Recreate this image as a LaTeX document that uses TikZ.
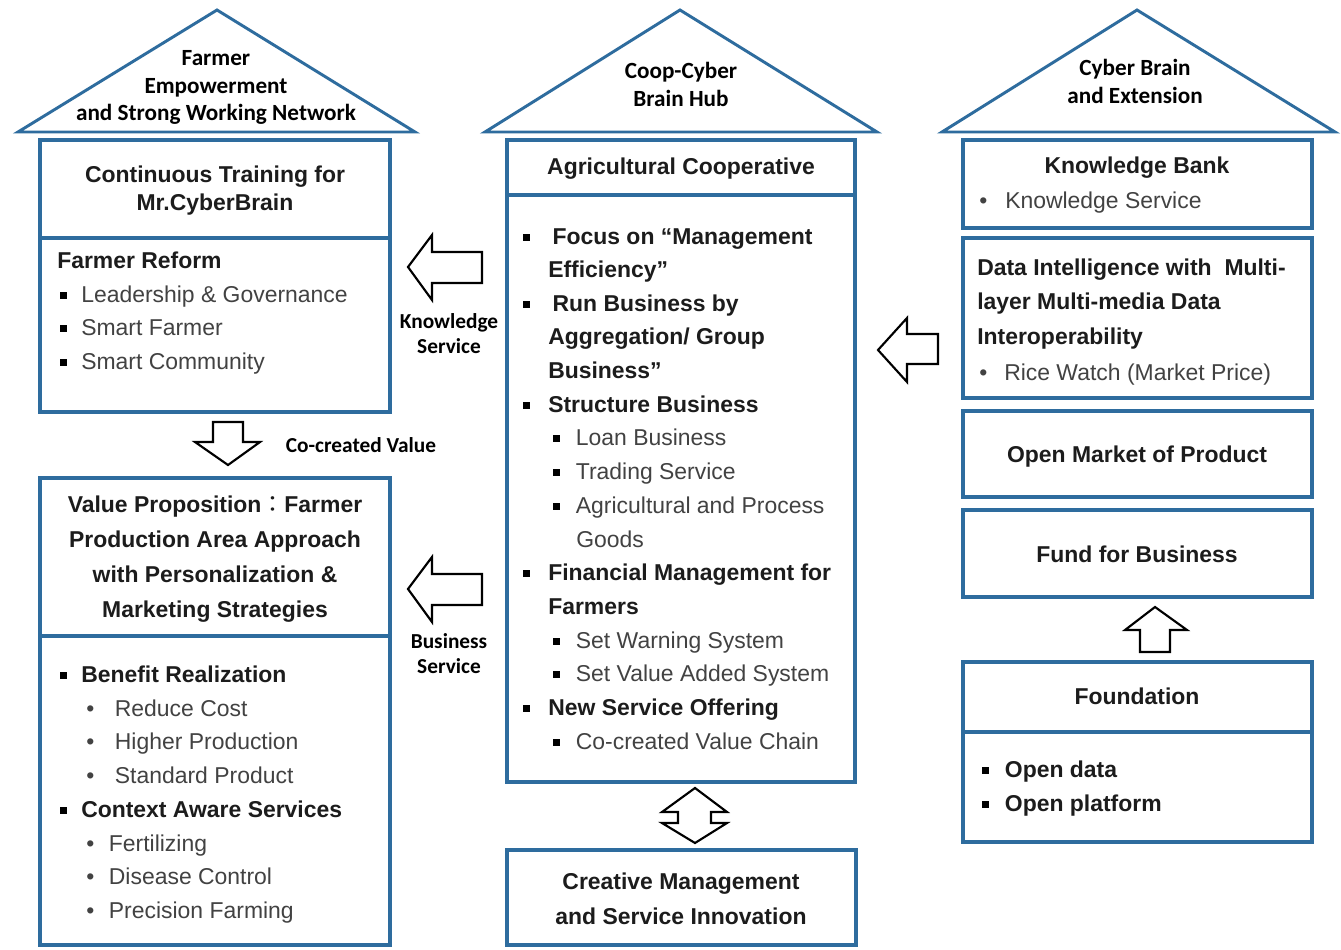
\documentclass[tikz,border=0pt]{standalone}
\usepackage{fontspec}
\setmainfont{Liberation Sans}
\newfontfamily\carlito{Carlito}
\newfontfamily\cjkjp{Noto Sans CJK JP}
\usetikzlibrary{fit}
\definecolor{bblue}{RGB}{46,108,158}
\definecolor{txt}{RGB}{28,28,28}
\definecolor{subt}{RGB}{66,66,66}
\newcommand\sqi[1]{\makebox[#1][l]{\color{black}\raisebox{2.4pt}{\rule{4.8pt}{4.8pt}}}}
\newcommand\dti[1]{\makebox[#1][l]{\textbullet}}
\begin{document}
\begin{tikzpicture}[x=0.75pt,y=-0.75pt,
  box/.style={draw=bblue, line width=2.4pt, inner sep=0pt},
  roofst/.style={draw=bblue, line width=2.2pt, line join=miter},
  barrow/.style={draw=black, line width=1.6pt, fill=white, line join=miter},
  ln/.style={inner sep=0pt, text height=10.6pt, text depth=0pt, font=\fontsize{17.2}{20}\selectfont, text=txt},
  lnb/.style={ln, font=\fontsize{17.2}{20}\selectfont\bfseries},
  lns/.style={ln, text=subt},
  roof/.style={inner sep=0pt, text height=12.6pt, text depth=0pt, font=\carlito\fontsize{17.4}{20}\selectfont\bfseries, text=black},
  lab/.style={inner sep=0pt, text height=12.4pt, text depth=0pt, font=\carlito\fontsize{16}{19}\selectfont\bfseries, text=black}
]
\fill[white] (0,0) rectangle (1341,949);
\useasboundingbox (0,0) rectangle (1341,949);

% ---------- roofs ----------
\draw[roofst] (18,132) -- (217,10) -- (415,132) -- cycle;
\draw[roofst] (485,132) -- (680,10) -- (877,132) -- cycle;
\draw[roofst] (942,132) -- (1137,10) -- (1335,132) -- cycle;

% ---------- boxes ----------
\node[box, fit={(40,140)(390,238)}] (lb1) {};
\node[box, fit={(40,238)(390,412)}] (lb2) {};
\node[box, fit={(40,478)(390,636)}] (lb3) {};
\node[box, fit={(40,636)(390,945)}] (lb4) {};
\node[box, fit={(507,140)(855,195)}] (mb1) {};
\node[box, fit={(507,195)(855,782)}] (mb2) {};
\node[box, fit={(507,850)(856,945)}] (mb3) {};
\node[box, fit={(963,140)(1312,228)}] (rb1) {};
\node[box, fit={(963,238)(1312,398)}] (rb2) {};
\node[box, fit={(963,411)(1312,497)}] (rb3) {};
\node[box, fit={(963,510)(1312,597)}] (rb4) {};
\node[box, fit={(963,662)(1312,732)}] (rb5) {};
\node[box, fit={(963,732)(1312,842)}] (rb6) {};

% ---------- block arrows ----------
\draw[barrow] (408,267) -- (432,235) -- (432,252) -- (482,252) -- (482,283) -- (432,283) -- (432,300) -- cycle;
\draw[barrow] (408,589) -- (432,557) -- (432,574) -- (482,574) -- (482,605) -- (432,605) -- (432,622) -- cycle;
\draw[barrow] (878,350) -- (907,318) -- (907,334) -- (938,334) -- (938,364) -- (907,364) -- (907,382) -- cycle;
\draw[barrow] (213,422) -- (243,422) -- (243,442) -- (260,442) -- (228,465) -- (195,442) -- (213,442) -- cycle;
\draw[barrow] (1155,607) -- (1187,630) -- (1170,630) -- (1170,652) -- (1140,652) -- (1140,630) -- (1125,630) -- cycle;
\draw[barrow] (695,788) -- (727,812) -- (711,812) -- (711,823) -- (727,823) -- (695,843) -- (662,823) -- (678,823) -- (678,812) -- (662,812) -- cycle;

% ---------- roof texts ----------
\node[roof] (lr1) at (216,57) {Farmer};
\node[roof] (lr2) at (216,85) {Empowerment};
\node[roof] (lr3) at (216,112) {and Strong Working Network};
\node[roof] (mr1) at (681,70) {Coop-Cyber};
\node[roof] (mr2) at (681,98) {Brain Hub};
\node[roof] (rr1) at (1135,67) {Cyber Brain};
\node[roof] (rr2) at (1135,95) {and Extension};

% ---------- arrow labels ----------
\node[lab] (kl1) at (449,320) {Knowledge};
\node[lab] (kl2) at (449,345) {Service};
\node[lab] (bl1) at (449,640) {Business};
\node[lab] (bl2) at (449,665) {Service};
\node[lab] (cv) at (361,444) {Co-created Value};

% ---------- left column ----------
\node[lnb] (lt1) at (215,175) {Continuous Training for};
\node[lnb] (lt2) at (215,203) {Mr.CyberBrain};
\node[lnb, anchor=west] (lt3) at (57,261) {Farmer Reform};
\node[lns, anchor=west] (lt4) at (60,295) {\sqi{15.75pt}Leadership \& Governance};
\node[lns, anchor=west] (lt5) at (60,328) {\sqi{15.75pt}Smart Farmer};
\node[lns, anchor=west] (lt6) at (60,362) {\sqi{15.75pt}Smart Community};

\node[lnb] (vp1) at (215,505) {Value Proposition{\cjkjp\mdseries ：}Farmer};
\node[lnb] (vp2) at (215,540) {Production Area Approach};
\node[lnb] (vp3) at (215,575) {with Personalization \&};
\node[lnb] (vp4) at (215,610) {Marketing Strategies};

\node[lnb, anchor=west] (br1) at (60,675) {\sqi{15.75pt}Benefit Realization};
\node[lns, anchor=west] (br2) at (86,709) {\dti{21.5pt}Reduce Cost};
\node[lns, anchor=west] (br3) at (86,742) {\dti{21.5pt}Higher Production};
\node[lns, anchor=west] (br4) at (86,776) {\dti{21.5pt}Standard Product};
\node[lnb, anchor=west] (ca1) at (60,810) {\sqi{15.75pt}Context Aware Services};
\node[lns, anchor=west] (ca2) at (86,844) {\dti{17pt}Fertilizing};
\node[lns, anchor=west] (ca3) at (86,877) {\dti{17pt}Disease Control};
\node[lns, anchor=west] (ca4) at (86,911) {\dti{17pt}Precision Farming};

% ---------- middle column ----------
\node[lnb] (ac) at (681,167) {Agricultural Cooperative};
\node[lnb, anchor=west] (m1) at (523,237) {\sqi{22pt}Focus on “Management};
\node[lnb, anchor=west] (m2) at (548,270) {Efficiency”};
\node[lnb, anchor=west] (m3) at (523,304) {\sqi{22pt}Run Business by};
\node[lnb, anchor=west] (m4) at (548,337) {Aggregation/ Group};
\node[lnb, anchor=west] (m5) at (548,371) {Business”};
\node[lnb, anchor=west] (m6) at (523,405) {\sqi{18.75pt}Structure Business};
\node[lns, anchor=west] (m7) at (553,438) {\sqi{17pt}Loan Business};
\node[lns, anchor=west] (m8) at (553,472) {\sqi{17pt}Trading Service};
\node[lns, anchor=west] (m9) at (553,506) {\sqi{17pt}Agricultural and Process};
\node[lns, anchor=west] (m10) at (576,540) {Goods};
\node[lnb, anchor=west] (m11) at (523,573) {\sqi{18.75pt}Financial Management for};
\node[lnb, anchor=west] (m12) at (548,607) {Farmers};
\node[lns, anchor=west] (m13) at (553,641) {\sqi{17pt}Set Warning System};
\node[lns, anchor=west] (m14) at (553,674) {\sqi{17pt}Set Value Added System};
\node[lnb, anchor=west] (m15) at (523,708) {\sqi{18.75pt}New Service Offering};
\node[lns, anchor=west] (m16) at (553,742) {\sqi{17pt}Co-created Value Chain};

\node[lnb] (cm1) at (681,882) {Creative Management};
\node[lnb] (cm2) at (681,917) {and Service Innovation};

% ---------- right column ----------
\node[lnb] (kb1) at (1137,166) {Knowledge Bank};
\node[lns, anchor=west] (kb2) at (979,201) {\dti{19.5pt}Knowledge Service};
\node[lnb, anchor=west] (di1) at (977,268) {Data Intelligence with\ \ Multi-};
\node[lnb, anchor=west] (di2) at (977,302) {layer Multi-media Data};
\node[lnb, anchor=west] (di3) at (977,337) {Interoperability};
\node[lns, anchor=west] (di4) at (979,373) {\dti{18.75pt}Rice Watch (Market Price)};
\node[lnb] (om) at (1137,455) {Open Market of Product};
\node[lnb] (fb) at (1137,555) {Fund for Business};
\node[lnb] (fd) at (1137,697) {Foundation};
\node[lnb, anchor=west] (fd1) at (982,770) {\sqi{17pt}Open data};
\node[lnb, anchor=west] (fd2) at (982,804) {\sqi{17pt}Open platform};
\end{tikzpicture}
\end{document}
